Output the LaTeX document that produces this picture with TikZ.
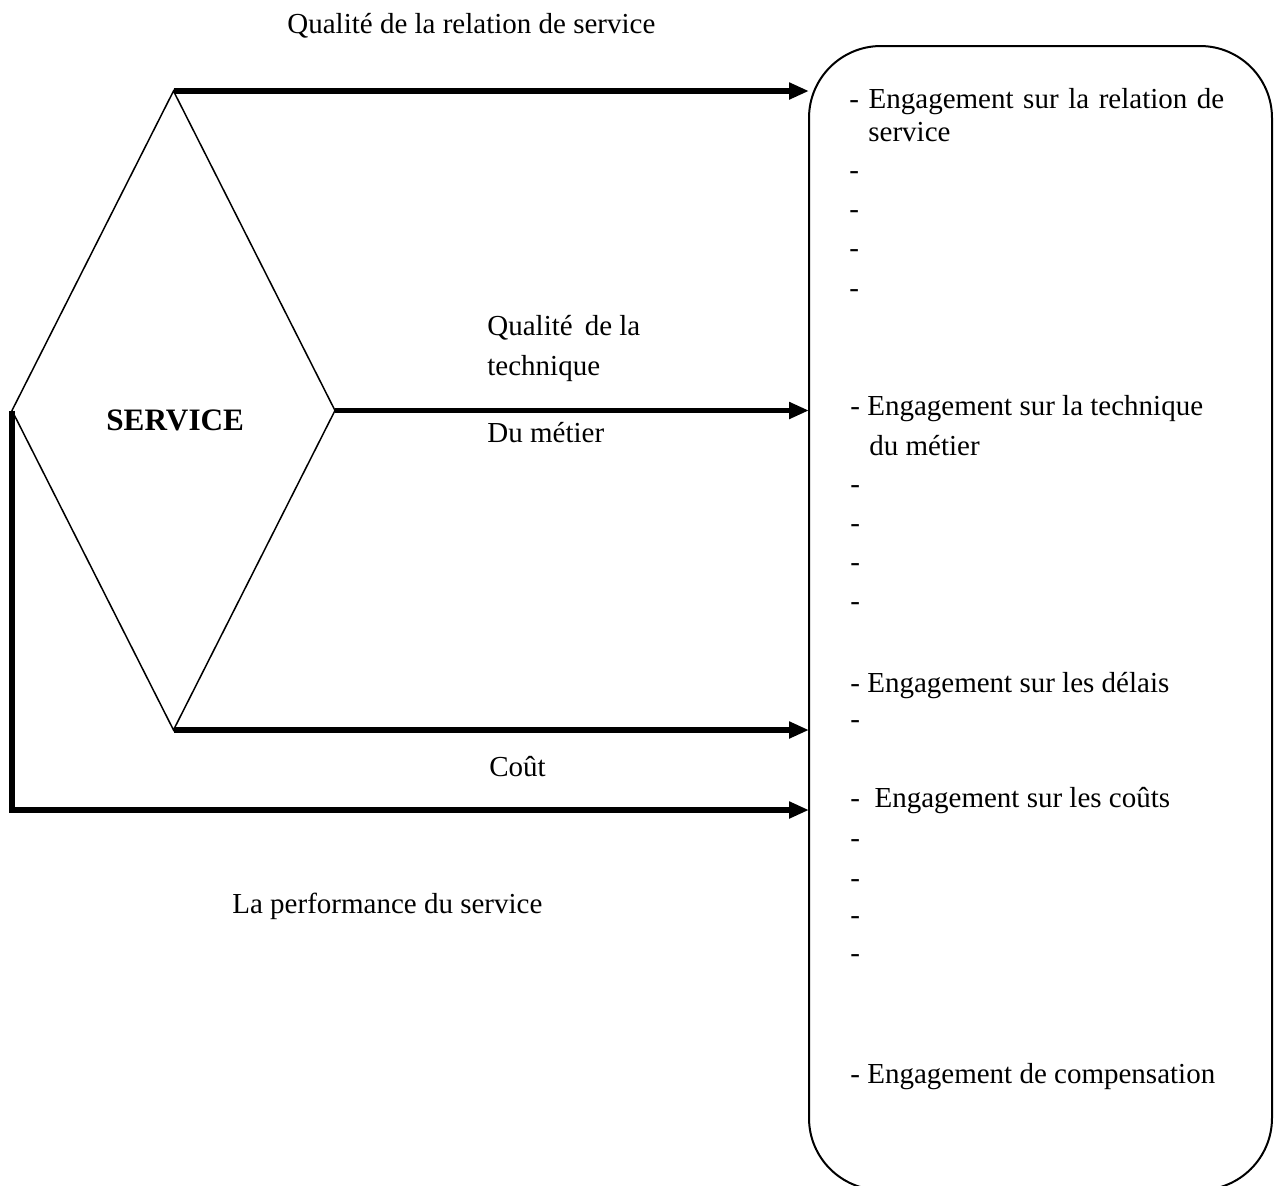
\documentclass[tikz,border=0pt]{standalone}
\usepackage{fontspec}
\setmainfont{Liberation Serif}
\usetikzlibrary{arrows.meta,shapes.geometric}
\begin{document}
\begin{tikzpicture}[x=0.5pt,y=-0.5pt,
  lbl/.style={anchor=base west, inner sep=0pt, font=\fontsize{14.5pt}{17pt}\selectfont},
  flow/.style={line width=2.8pt, line join=miter, -{Triangle[length=10pt,width=8pt]}},
  ]
% page background and frame
\fill[white] (0,0) rectangle (1276,1185);
\useasboundingbox (0,0) rectangle (1276,1185);

% the service diamond
\node[diamond, draw, line width=0.75pt, inner sep=0pt, outer sep=0pt,
      minimum width=161.5pt, minimum height=319.5pt] (svc) at (173.5,410.5) {};
\node[lbl, font=\fontsize{15.6pt}{18pt}\selectfont\bfseries] (svclbl) at (106,430) {SERVICE};

% the commitments box (its lower edge runs off the page)
\node[draw, line width=1pt, rounded corners=36pt, inner sep=0pt, outer sep=0pt,
      minimum width=231.5pt, minimum height=572pt, anchor=north west] (box) at (809,46) {};

% connectors
\coordinate (perf) at (809,810);
\draw[flow] (svc.north) -- (svc.north -| box.west);
\draw[flow] (svc.east)  -- (svc.east -| box.west);
\draw[flow] (svc.south) -- (svc.south -| box.west);
\draw[flow] (svc.west) |- (perf);

% labels of the connectors
\node[lbl] (qrel) at (287,33) {Qualité de la relation de service};
\node[lbl] (qtec1) at (487,335) {Qualité\hspace{6pt}de la};
\node[lbl] (qtec2) at (487,375) {technique};
\node[lbl] (qtec3) at (487,442) {Du métier};
\node[lbl] (cout) at (489,776) {Coût};
\node[lbl] (perflbl) at (232,913) {La performance du service};

% contents of the box
\node[lbl] (e1) at (849,108) {\spaceskip=4.8pt - Engagement sur la relation de};
\node[lbl] (e1b) at (868,141) {service};
\node[lbl] (e1c) at (849,179) {-};
\node[lbl] (e1d) at (849,218) {-};
\node[lbl] (e1e) at (849,257) {-};
\node[lbl] (e1f) at (849,297) {-};

\node[lbl] (e2) at (850,415) {- Engagement sur la technique};
\node[lbl] (e2b) at (869,455) {du métier};
\node[lbl] (e2c) at (850,493) {-};
\node[lbl] (e2d) at (850,532) {-};
\node[lbl] (e2e) at (850,571) {-};
\node[lbl] (e2f) at (850,610) {-};

\node[lbl] (e3) at (850,692) {- Engagement sur les délais};
\node[lbl] (e3b) at (850,728) {-};

\node[lbl] (e4) at (850,807) {-\ \ Engagement sur les coûts};
\node[lbl] (e4b) at (850,847) {-};
\node[lbl] (e4c) at (850,887) {-};
\node[lbl] (e4d) at (850,924) {-};
\node[lbl] (e4e) at (850,962) {-};

\node[lbl] (e5) at (850,1083) {- Engagement de compensation};
\end{tikzpicture}
\end{document}
